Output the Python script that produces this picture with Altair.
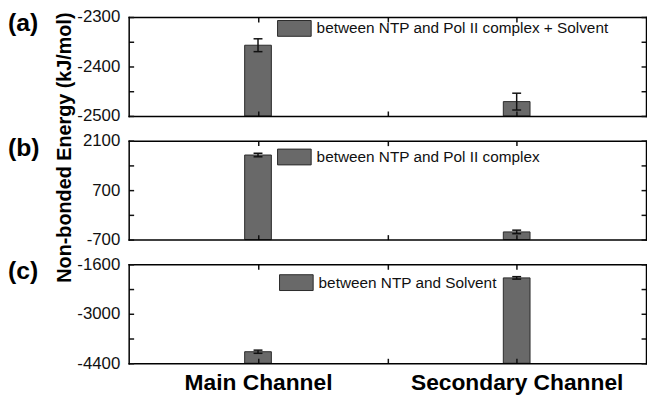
import altair as alt
import pandas as pd

# ---------------- data ----------------
categories = ["Main Channel", "Secondary Channel"]
gap_category = " "
panel_tags = ["(a)", "(b)", "(c)"]
series_names = [
    "between NTP and Pol II complex + Solvent",
    "between NTP and Pol II complex",
    "between NTP and Solvent",
]
energies_a = [-2357, -2471]
errors_a = [13, 17]
energies_b = [1694, -483]
errors_b = [50, 50]
energies_c = [-4074, -1984]
errors_c = [45, 35]
y_domains = [[-2500, -2300], [-700, 2100], [-4400, -1600]]
y_labels = [[-2500, -2400, -2300], [-700, 700, 2100], [-4400, -3000, -1600]]
y_ticks = [
    [-2500, -2450, -2400, -2350, -2300],
    [-700, 0, 700, 1400, 2100],
    [-4400, -3700, -3000, -2300, -1600],
]
y_title = "Non-bonded Energy (kJ/mol)"

# ---------------- style ----------------
W = 523
H = 100
FONT = "Liberation Sans"
BAR_FILL = "#696969"
BAR_EDGE = "#2a2a2a"
INK = "#111111"
FRAME = "#000000"
RECT_PATH = "M-1,-0.47H1V0.47H-1Z"

x_domain = [categories[0], gap_category, categories[1]]
legend_xy = [(150, -6), (150, -1), (152, 1)]
tag_y = [6, 7, 7]


def tick_axis(orient, offset, values=None, domain=True):
    kw = dict(orient=orient, offset=offset, labels=False, grid=False,
              domain=domain, domainColor=FRAME, domainWidth=1.5, domainCap="square",
              ticks=True, tickSize=5, tickWidth=1.5, tickColor=INK, title=None, zindex=1)
    if values is not None:
        kw["values"] = values
    return alt.Axis(**kw)


def panel(i, energies, errors):
    df = pd.DataFrame({
        "channel": categories,
        "energy": energies,
        "low": [e - d for e, d in zip(energies, errors)],
        "high": [e + d for e, d in zip(energies, errors)],
        "floor": [y_domains[i][0]] * len(categories),
        "series": [series_names[i]] * len(categories),
    })
    xs = alt.Scale(type="point", domain=x_domain, padding=1)
    ys = alt.Scale(domain=y_domains[i], nice=False, zero=False)
    base = alt.Chart(df)

    label_axis_y = alt.Axis(orient="left", values=y_labels[i], ticks=False, tickSize=0,
                            domain=False, grid=False, labelPadding=9, labelFont=FONT,
                            labelFontSize=17, labelColor=INK, title=None,
                            labelExpr="'' + datum.value")
    if i == 2:
        label_axis_x = alt.Axis(orient="bottom", ticks=False, tickSize=0, domain=False,
                                grid=False, labelAngle=0, labelPadding=9, labelFont=FONT,
                                labelFontSize=23, labelFontWeight="bold", labelColor="#000",
                                labelLimit=400, title=None)
    else:
        label_axis_x = None

    lx, ly = legend_xy[i]
    bars = base.mark_bar(size=27, stroke=BAR_EDGE, strokeWidth=1, opacity=1).encode(
        x=alt.X("channel:N", scale=xs, axis=label_axis_x),
        y=alt.Y("energy:Q", scale=ys, axis=label_axis_y),
        y2="floor:Q",
        color=alt.Color("series:N", scale=alt.Scale(range=[BAR_FILL]),
                        legend=alt.Legend(orient="none", legendX=lx, legendY=ly, title=None,
                                          symbolType=RECT_PATH, symbolSize=1156,
                                          symbolStrokeColor=BAR_EDGE, symbolStrokeWidth=1,
                                          symbolOpacity=1, labelFont=FONT, labelFontSize=15.5,
                                          labelColor="#111", labelLimit=500, labelOffset=5,
                                          padding=0)),
    )
    rule = base.mark_rule(strokeWidth=1.5, color=INK).encode(
        x=alt.X("channel:N", scale=xs, axis=tick_axis("bottom", -H)),
        y=alt.Y("low:Q", scale=ys, axis=tick_axis("right", -W, y_ticks[i])),
        y2="high:Q",
    )
    caps_low = base.mark_tick(size=9, thickness=1.5, color=INK, opacity=1).encode(
        x=alt.X("channel:N", scale=xs, axis=tick_axis("top", -H)),
        y=alt.Y("low:Q", scale=ys, axis=tick_axis("left", -W, y_ticks[i])),
    )
    caps_high = base.mark_tick(size=9, thickness=1.5, color=INK, opacity=1).encode(
        x=alt.X("channel:N", scale=xs, axis=None),
        y=alt.Y("high:Q", scale=ys, axis=None),
    )
    tag = alt.Chart(pd.DataFrame({"tag": [panel_tags[i]]})).mark_text(
        align="left", baseline="middle", font=FONT, fontSize=25, fontWeight="bold", color="#000"
    ).encode(text="tag:N", x=alt.value(-122), y=alt.value(tag_y[i]))

    layers = [bars, rule, caps_low, caps_high, tag]
    if i == 1:
        title = alt.Chart(pd.DataFrame({"t": [y_title]})).mark_text(
            angle=270, align="center", baseline="middle", font=FONT, fontSize=20,
            fontWeight="bold", color="#000"
        ).encode(text="t:N", x=alt.value(-64), y=alt.value(7))
        layers.append(title)

    return alt.layer(*layers).resolve_scale(x="shared", y="shared").resolve_axis(
        x="independent", y="independent").properties(width=W, height=H)


chart = alt.vconcat(
    panel(0, energies_a, errors_a),
    panel(1, energies_b, errors_b),
    panel(2, energies_c, errors_c),
    spacing=25,
    bounds="flush",
).resolve_scale(color="independent").resolve_legend(color="independent").properties(
    padding={"left": 0, "top": -2, "right": 0, "bottom": 0}
).configure(font=FONT).configure_view(stroke=None)

chart.save("out.html", embed_options={"renderer": "svg", "actions": False})
